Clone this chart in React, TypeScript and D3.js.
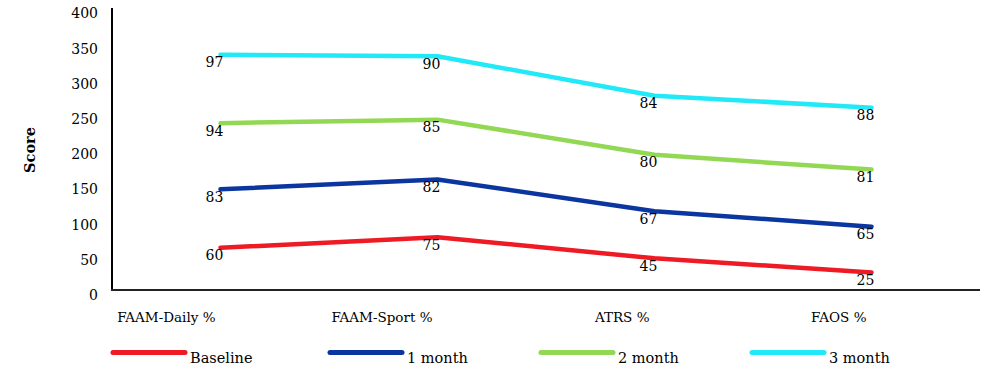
import React from "react";
import * as d3 from "d3";

const categories = ["FAAM-Daily %", "FAAM-Sport %", "ATRS %", "FAOS %"];
const seriesNames = ["Baseline", "1 month", "2 month", "3 month"];
const baseline = [60, 75, 45, 25];
const month1 = [83, 82, 67, 65];
const month2 = [94, 85, 80, 81];
const month3 = [97, 90, 84, 88];
const yTicks = [0, 50, 100, 150, 200, 250, 300, 350, 400];
const colors = ["#EE1B24", "#0B36A0", "#92D854", "#22E9F7"];

const W = 1000;
const H = 377;
const FONT = "'DejaVu Serif', 'Liberation Serif', serif";

export default function App() {
  const series = [baseline, month1, month2, month3];
  const x = d3.scalePoint<string>().domain(categories).range([112, 980]).padding(0.5);
  const y = d3.scaleLinear().domain([0, 400]).range([290, 8.4]);

  // stacked cumulative values
  const stacked: number[][] = [];
  series.forEach((s, i) => {
    stacked.push(s.map((v, j) => v + (i > 0 ? stacked[i - 1][j] : 0)));
  });

  const line = d3
    .line<number>()
    .x((_, j) => x(categories[j]) as number)
    .y((v) => y(v));

  const legendX = [113, 330, 541, 752];

  return (
    <svg width={W} height={H} style={{ display: "block", position: "absolute", left: 0, top: 0 }}>
      <rect x={0} y={0} width={W} height={H} fill="#fff" />
      {/* axes */}
      <line x1={112} x2={112} y1={8} y2={290} stroke="#000" strokeWidth={2} />
      <line x1={111} x2={980} y1={290} y2={290} stroke="#222" strokeWidth={2} />
      {yTicks.map((t) => (
        <text key={t} x={98} y={y(t) + 10} textAnchor="end" fontFamily={FONT} fontSize={14} fill="#000">
          {t}
        </text>
      ))}
      <text
        transform={`translate(35,150) rotate(-90)`}
        textAnchor="middle"
        fontFamily={FONT}
        fontSize={14.5}
        fontWeight="bold"
        fill="#000"
      >
        Score
      </text>
      {categories.map((c) => (
        <text key={c} x={(x(c) as number) - 5} y={322} textAnchor="end" fontFamily={FONT} fontSize={13.5} fill="#000">
          {c}
        </text>
      ))}
      {stacked.map((s, i) => (
        <path key={i} d={line(s) || ""} fill="none" stroke={colors[i]} strokeWidth={4.5} strokeLinecap="round" strokeLinejoin="round" />
      ))}
      {stacked.map((s, i) =>
        s.map((v, j) => (
          <text
            key={`${i}-${j}`}
            x={(x(categories[j]) as number) - 6}
            y={y(v) + 12.5}
            textAnchor="middle"
            fontFamily={FONT}
            fontSize={14}
            fill="#000"
          >
            {series[i][j]}
          </text>
        ))
      )}
      {seriesNames.map((n, i) => (
        <g key={n}>
          <line x1={legendX[i]} x2={legendX[i] + 72} y1={352.5} y2={352.5} stroke={colors[i]} strokeWidth={5} strokeLinecap="round" />
          <text x={legendX[i] + 77} y={363} fontFamily={FONT} fontSize={14.5} fill="#000">
            {n}
          </text>
        </g>
      ))}
    </svg>
  );
}
